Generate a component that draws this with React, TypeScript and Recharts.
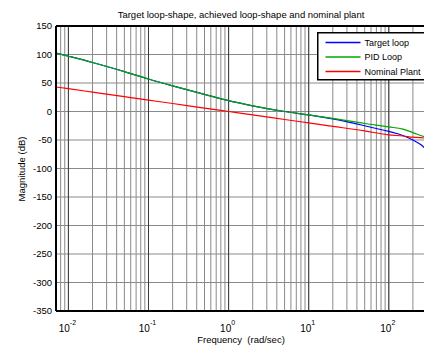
import React from "react";
import { LineChart, Line, XAxis, YAxis, CartesianGrid, ReferenceLine } from "recharts";

// frequency (rad/sec) and magnitudes (dB)
const freqs = [0.007, 0.01, 0.02, 0.05, 0.1, 0.2, 0.5, 1, 2, 5, 10, 20, 50, 100, 150, 200, 250, 300];
const targetLoop = [102.5, 97, 86, 70, 57, 45, 30, 19, 10, 0, -6, -13, -25, -35, -42, -50, -58, -68];
const pidLoop = [102.5, 97, 86, 70, 57, 45, 30, 19, 10, 0, -6, -12, -21, -27, -31, -37, -42, -46];
const nominalPlant = [43, 40, 34, 26, 20, 14, 6, 0, -6, -14, -20, -26, -34, -41, -43, -45, -46, -47];

const xGridTicks = [
  0.007, 0.008, 0.009,
  0.01, 0.02, 0.03, 0.04, 0.05, 0.06, 0.07, 0.08, 0.09,
  0.1, 0.2, 0.3, 0.4, 0.5, 0.6, 0.7, 0.8, 0.9,
  1, 2, 3, 4, 5, 6, 7, 8, 9,
  10, 20, 30, 40, 50, 60, 70, 80, 90,
  100, 200, 300,
];
const decades = [0.01, 0.1, 1, 10, 100];
const yTicks = [150, 100, 50, 0, -50, -100, -150, -200, -250, -300, -350];

const legendItems = [
  { name: "Target loop", color: "#0000ff" },
  { name: "PID Loop", color: "#00a800" },
  { name: "Nominal Plant", color: "#ff0000" },
];

const data = freqs.map((f, i) => ({
  f,
  target: targetLoop[i],
  pid: pidLoop[i],
  plant: nominalPlant[i],
}));

const DecadeTick = (props: any) => {
  const { x, y, payload } = props;
  const lg = Math.log10(payload.value);
  const e = Math.round(lg);
  if (Math.abs(lg - e) > 1e-6) return <g />;
  return (
    <text x={x - 1} y={y + 21} textAnchor="middle" fontSize={10} fill="#000">
      <tspan>10</tspan>
      <tspan dy={-7} fontSize={7}>{e}</tspan>
    </text>
  );
};

export default function App() {
  const font = "'Liberation Sans', Arial, sans-serif";
  return (
    <div style={{ position: "relative", width: 424, height: 347, overflow: "hidden", fontFamily: font, background: "#fff" }}>
      <style>{"body{margin:0}"}</style>
      <div style={{ position: "absolute", left: 8, top: 8, width: 416, height: 339 }}>
        <div style={{ position: "absolute", left: 233, top: 1, transform: "translateX(-50%)", whiteSpace: "nowrap", fontSize: 9.5, lineHeight: "12px", color: "#000" }}>
          Target loop-shape, achieved loop-shape and nominal plant
        </div>
        <LineChart width={429} height={339} data={data} margin={{ top: 18, right: 10, bottom: 6, left: 0 }}>
          <CartesianGrid stroke="#8a8a8a" strokeWidth={1} />
          <XAxis
            dataKey="f"
            type="number"
            scale="log"
            domain={[0.007, 300]}
            ticks={xGridTicks}
            allowDataOverflow
            tick={<DecadeTick />}
            tickSize={0}
            tickMargin={0}
            tickLine={false}
            interval={0}
            height={30}
            axisLine={{ stroke: "#000", strokeWidth: 2 }}
          />
          <YAxis
            type="number"
            domain={[-350, 150]}
            ticks={yTicks}
            width={48}
            tickSize={0}
            tickMargin={4}
            tickLine={false}
            interval={0}
            tick={{ fill: "#000", fontSize: 9.5 }}
            axisLine={{ stroke: "#000", strokeWidth: 2 }}
          />
          {decades.map((d) => (
            <ReferenceLine key={d} x={d} stroke="#3a3a3a" strokeWidth={1} />
          ))}
          <ReferenceLine y={150} stroke="#000" strokeWidth={2} />
          <Line type="monotone" dataKey="target" stroke="#0000ff" strokeWidth={1.2} dot={false} isAnimationActive={false} />
          <Line type="monotone" dataKey="pid" stroke="#00a800" strokeWidth={1.2} dot={false} isAnimationActive={false} />
          <Line type="monotone" dataKey="plant" stroke="#ff0000" strokeWidth={1.2} dot={false} isAnimationActive={false} />
        </LineChart>
        <svg style={{ position: "absolute", left: 309, top: 24 }} width={120} height={50}>
          <rect x={0.75} y={0.75} width={116} height={47} fill="#fff" stroke="#000" strokeWidth={1.5} />
          {legendItems.map((it, i) => (
            <g key={it.name}>
              <line x1={8.5} x2={43.5} y1={10.5 + i * 14.5} y2={10.5 + i * 14.5} stroke={it.color} strokeWidth={1.5} />
              <text x={47.5} y={10.5 + i * 14.5} dominantBaseline="central" fontSize={9} fill="#000">{it.name}</text>
            </g>
          ))}
        </svg>
        <div style={{ position: "absolute", left: 233, top: 326, transform: "translateX(-50%)", whiteSpace: "nowrap", fontSize: 9.5, lineHeight: "12px", color: "#000" }}>
          Frequency&nbsp;&nbsp;(rad/sec)
        </div>
        <div style={{ position: "absolute", left: 14, top: 161, transform: "translate(-50%, -50%) rotate(-90deg)", whiteSpace: "nowrap", fontSize: 9.5, lineHeight: "12px", color: "#000" }}>
          Magnitude (dB)
        </div>
      </div>
    </div>
  );
}
